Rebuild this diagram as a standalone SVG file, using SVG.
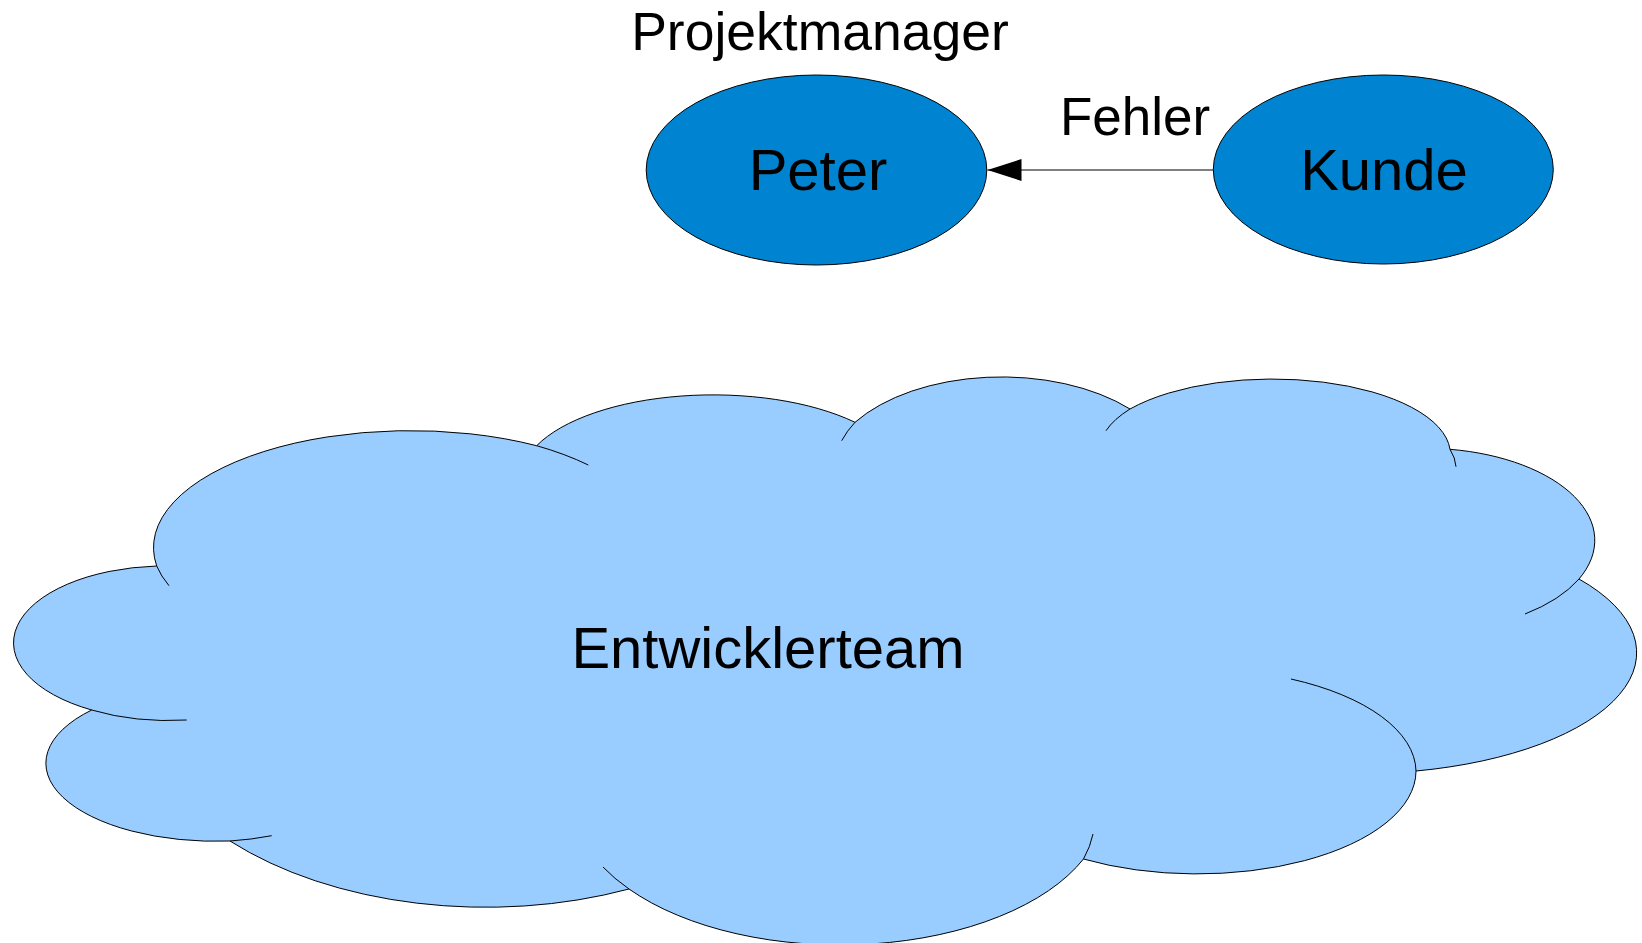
<svg xmlns="http://www.w3.org/2000/svg" width="1642" height="943" viewBox="0 0 1642 943">
  <defs>
    <style>
      .label { font-family: "Liberation Sans", Arial, sans-serif; fill: #000; text-anchor: middle; }
      .person { fill: #0084D1; stroke: #000; stroke-width: 1; }
      .cloud { fill: #99CCFF; stroke: #000; stroke-width: 1; }
      .tail { fill: none; stroke: #000; stroke-width: 1; }
      .edge { fill: none; stroke: #000; stroke-width: 1; }
    </style>
    <marker id="arrowhead" markerUnits="userSpaceOnUse" markerWidth="36" markerHeight="24" refX="34" refY="11" orient="auto">
      <path d="M0,0 L34,11 L0,22 Z" fill="#000"/>
    </marker>
  </defs>

  <rect width="1642" height="943" fill="#fff"/>

  <!-- Entwicklerteam cloud: outer outline built from elliptical lobes -->
  <g id="entwicklerteam">
    <path class="cloud" d="
      M 91.7 710
      A 153 77 0 0 1 156.7 566
      A 257 117 0 0 1 536.7 445.7
      A 192 84 0 0 1 855 422.3
      A 175 100 0 0 1 1130 409
      A 178 75 0 0 1 1450 449.3
      A 170 92 0 0 1 1579 579
      A 279 121 0 0 1 1416 771
      A 219 103 0 0 1 1083.5 859
      A 264.5 141 0 0 1 629 889
      A 351 210 0 0 1 230 841
      A 170 78 0 0 1 91.7 710 Z"/>
    <!-- short inner continuations of the lobes -->
    <path class="tail" d="M 91.7 710 A 153 77 0 0 0 186.7 720"/>
    <path class="tail" d="M 156.7 566 A 257 117 0 0 0 169 585.7"/>
    <path class="tail" d="M 536.7 445.7 A 257 117 0 0 1 588.3 465"/>
    <path class="tail" d="M 855 422.3 A 175 100 0 0 0 841.7 440.7"/>
    <path class="tail" d="M 1130 409 A 178 75 0 0 0 1106 430.7"/>
    <path class="tail" d="M 1450 449.3 A 178 75 0 0 1 1456 466.7"/>
    <path class="tail" d="M 1579 579 A 170 92 0 0 1 1525 614"/>
    <path class="tail" d="M 1416 771 A 219 103 0 0 0 1291 679"/>
    <path class="tail" d="M 1083.5 859 A 264.5 141 0 0 0 1093 834"/>
    <path class="tail" d="M 629 889 A 264.5 141 0 0 1 603 867"/>
    <path class="tail" d="M 230 841 A 170 78 0 0 0 271.7 835.7"/>
    <text class="label" x="768" y="668" font-size="58">Entwicklerteam</text>
  </g>

  <!-- Peter (Projektmanager) -->
  <g id="peter">
    <ellipse class="person" cx="816.5" cy="170" rx="170.3" ry="95"/>
    <text class="label" x="818" y="190" font-size="58">Peter</text>
    <text class="label" x="820" y="50" font-size="53.5">Projektmanager</text>
  </g>

  <!-- Kunde -->
  <g id="kunde">
    <ellipse class="person" cx="1383.3" cy="169.5" rx="170" ry="94.5"/>
    <text class="label" x="1384" y="190" font-size="58">Kunde</text>
  </g>

  <!-- connectors -->
  <g id="connectors">
    <line class="edge" x1="1213.3" y1="170" x2="987.5" y2="170" marker-end="url(#arrowhead)"/>
    <text class="label" x="1135" y="135" font-size="53">Fehler</text>
  </g>
</svg>
